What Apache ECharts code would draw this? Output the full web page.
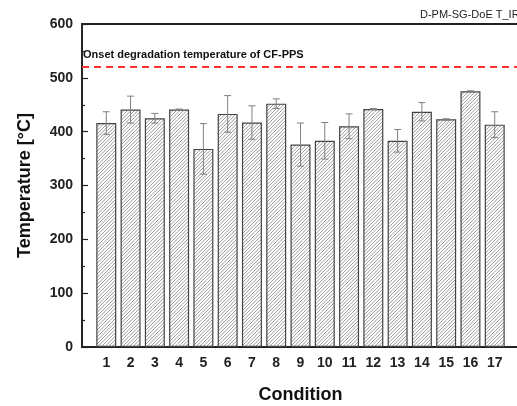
<!DOCTYPE html>
<html>
<head>
<meta charset="utf-8">
<script src="https://cdn.jsdelivr.net/npm/echarts@6/dist/echarts.min.js"></script>
<style>
  html, body { margin: 0; padding: 0; background: #fff; }
  #chart { width: 517px; height: 406px; }
</style>
</head>
<body>
<div id="chart"></div>
<script>
  // data
  const conditions = [1, 2, 3, 4, 5, 6, 7, 8, 9, 10, 11, 12, 13, 14, 15, 16, 17]
  const temps = [416, 441, 425, 441, 368, 433, 417, 452, 376, 383, 410, 442, 383, 437, 423, 475, 413]
  const errors = [21, 25, 9, 1, 47, 34, 31, 9, 40, 34, 23, 1, 21, 17, 1, 1, 24]
  const onsetTemp = 520
  const onsetLabel = 'Onset degradation temperature of CF-PPS'
  const tag = 'D-PM-SG-DoE T_IR'

  const font = "'Liberation Sans', Arial, sans-serif"

  // 斜线填充
  const hatch = document.createElement('canvas')
  hatch.width = 7
  hatch.height = 7
  const ctx = hatch.getContext('2d')
  ctx.fillStyle = '#fff'
  ctx.fillRect(0, 0, 7, 7)
  ctx.strokeStyle = '#7a7a7a'
  ctx.lineWidth = 0.75
  ctx.beginPath()
  for (let c = -3.5; c <= 17.5; c += 3.5) {
    ctx.moveTo(c + 1, -1)
    ctx.lineTo(c - 8, 8)
  }
  ctx.stroke()

  const myChart = echarts.init(document.getElementById('chart'))

  const option = {
    animation: false,
    grid: {
      left: 82,
      top: 24,
      width: 437,
      height: 323,
      outerBoundsMode: 'none',
      show: true,
      borderColor: '#222',
      borderWidth: 1.8
    },
    xAxis: {
      type: 'value',
      min: 0,
      max: 18,
      interval: 1,
      name: 'Condition',
      nameLocation: 'middle',
      nameGap: 39,
      nameTextStyle: { fontFamily: font, fontWeight: 'bold', fontSize: 18, color: '#111' },
      axisLine: { show: true, lineStyle: { color: '#222', width: 2 } },
      axisTick: { show: false },
      splitLine: { show: false },
      axisLabel: {
        margin: 9,
        fontFamily: font,
        fontWeight: 'bold',
        fontSize: 14,
        color: '#222',
        formatter: (v) => (v >= 1 && v <= 17 ? String(v) : '')
      }
    },
    yAxis: {
      type: 'value',
      min: 0,
      max: 600,
      interval: 100,
      name: 'Temperature [°C]',
      nameLocation: 'middle',
      nameGap: 48,
      nameTextStyle: { fontFamily: font, fontWeight: 'bold', fontSize: 18, color: '#111' },
      axisLine: { show: true, lineStyle: { color: '#222', width: 1.5 } },
      axisTick: { show: true, inside: true, length: 6, lineStyle: { color: '#222', width: 1.2 } },
      minorTick: { show: true, splitNumber: 2, length: 3, lineStyle: { color: '#222', width: 1.2 } },
      splitLine: { show: false },
      axisLabel: {
        margin: 9,
        fontFamily: font,
        fontWeight: 'bold',
        fontSize: 14,
        color: '#222'
      }
    },
    series: [
      {
        type: 'bar',
        barWidth: 20,
        data: conditions.map((c, i) => [c, temps[i]]),
        itemStyle: {
          color: { image: hatch, repeat: 'repeat' },
          borderColor: '#444',
          borderWidth: 1.2
        },
        markLine: {
          silent: true,
          symbol: 'none',
          label: { show: false },
          lineStyle: { color: '#ff3030', width: 2, type: [7, 5] },
          data: [{ yAxis: onsetTemp }]
        }
      },
      {
        // 误差线
        type: 'custom',
        data: conditions.map((c, i) => [c, temps[i], errors[i]]),
        encode: { x: 0, y: 1 },
        z: 3,
        renderItem: (params, api) => {
          const x = api.value(0)
          const y = api.value(1)
          const e = api.value(2)
          const top = api.coord([x, y + e])
          const bot = api.coord([x, y - e])
          const hw = 3.5
          const style = { stroke: '#808080', lineWidth: 1 }
          return {
            type: 'group',
            children: [
              { type: 'line', shape: { x1: top[0], y1: top[1], x2: bot[0], y2: bot[1] }, style },
              { type: 'line', shape: { x1: top[0] - hw, y1: top[1], x2: top[0] + hw, y2: top[1] }, style },
              { type: 'line', shape: { x1: bot[0] - hw, y1: bot[1], x2: bot[0] + hw, y2: bot[1] }, style }
            ]
          }
        }
      }
    ],
    graphic: [
      {
        type: 'text',
        left: 83,
        top: 49,
        style: { text: onsetLabel, fontFamily: font, fontWeight: 'bold', fontSize: 11, fill: '#111' }
      },
      {
        type: 'text',
        left: 420,
        top: 9,
        style: { text: tag, fontFamily: font, fontSize: 11, fill: '#222' }
      }
    ]
  }

  myChart.setOption(option)
  window.addEventListener('resize', () => {
    myChart.resize()
  })
</script>
</body>
</html>
